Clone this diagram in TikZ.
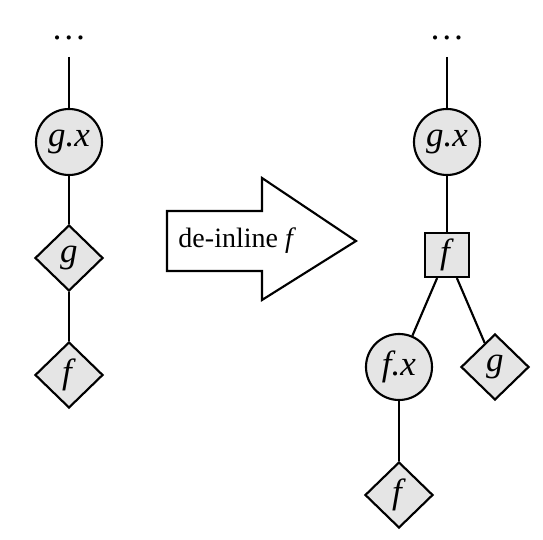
\documentclass[tikz,border=0pt]{standalone}
\usepackage{fontspec}
\setmainfont{Liberation Serif}
\usetikzlibrary{shapes.geometric}
\begin{document}
\begin{tikzpicture}[x=0.4pt,y=-0.4pt,
  every node/.style={font=\fontsize{14}{16}\selectfont},
  link/.style={line width=0.85pt},
  circ/.style={circle,draw,line width=0.85pt,fill=gray!20,minimum size=26.4pt,inner sep=0pt},
  dia/.style={diamond,draw,line width=0.85pt,fill=gray!20,minimum width=27.2pt,minimum height=26.4pt,inner sep=0pt},
  sq/.style={rectangle,draw,line width=0.85pt,fill=gray!20,minimum size=17.6pt,inner sep=0pt}]
\useasboundingbox (0,0) rectangle (543,540);
% left column
\node (ldots) at (69,38) {\textellipsis};
\coordinate (ltop) at (69,57);
\node[circ] (lgx) at (69,142) {\textit{g.x}};
\node[dia] (lg) at (69,258) {\textit{g}};
\node[dia] (lf) at (69,375) {\textit{f}};
\draw[link] (ltop) -- (lgx);
\draw[link] (lgx) -- (lg);
\draw[link] (lg) -- (lf);
% arrow
\draw[line width=0.85pt,fill=white] (167,211) -- (262,211) -- (262,178) -- (356,241) -- (262,300) -- (262,271) -- (167,271) -- cycle;
\node[anchor=west,inner sep=0pt,font=\fontsize{11.2}{14}\selectfont] (lbl) at (178,241) {de-inline \textit{f}};
% right column
\node (rdots) at (447,38) {\textellipsis};
\coordinate (rtop) at (447,57);
\node[circ] (rgx) at (447,142) {\textit{g.x}};
\node[sq] (rf) at (447,255) {\textit{f}};
\node[circ] (fx) at (399,367) {\textit{f.x}};
\node[dia] (rg) at (495,367) {\textit{g}};
\node[dia] (rff) at (399,495) {\textit{f}};
\draw[link] (rtop) -- (rgx);
\draw[link] (rgx) -- (rf);
\draw[link] (rf) -- (fx);
\draw[link] (rf) -- (rg);
\draw[link] (fx) -- (rff);
\end{tikzpicture}
\end{document}
